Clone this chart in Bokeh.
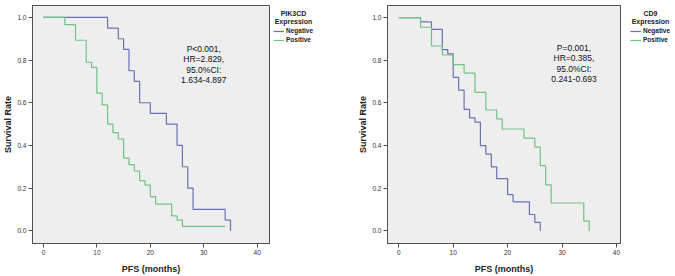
from bokeh.plotting import figure
from bokeh.models import Label, Legend, LegendItem, NumeralTickFormatter, FixedTicker, Range1d
from bokeh.layouts import row
from bokeh.embed import file_html
from bokeh.resources import INLINE

# ---- data ----
x_ticks = [0, 10, 20, 30, 40]
y_ticks = [0.0, 0.2, 0.4, 0.6, 0.8, 1.0]
group_labels = ["Negative", "Positive"]

# Left panel: PIK3CD expression
pik_neg_t = [0, 12, 14, 15, 16, 17, 18, 20, 23, 25, 26, 27, 28, 34, 35]
pik_neg_s = [1.0, 0.95, 0.90, 0.85, 0.75, 0.70, 0.60, 0.55, 0.50, 0.40, 0.30, 0.20, 0.10, 0.05, 0.0]
pik_pos_t = [0, 4, 6, 8, 9, 10, 11, 12, 13, 14, 15, 16, 17, 18, 19, 20, 21, 24, 25, 26, 34]
pik_pos_s = [1.0, 0.966, 0.893, 0.79, 0.766, 0.645, 0.59, 0.50, 0.46, 0.43, 0.34, 0.31, 0.28,
             0.235, 0.214, 0.16, 0.125, 0.07, 0.05, 0.02, 0.02]
pik_title = ["PIK3CD", "Expression"]
pik_stats = "P<0.001,\nHR=2.829,\n95.0%CI:\n1.634-4.897"

# Right panel: CD9 expression
cd9_neg_t = [0, 4, 6, 8, 9, 10, 11, 12, 13, 14, 15, 16, 17, 18, 20, 21, 24, 25, 26]
cd9_neg_s = [1.0, 0.98, 0.945, 0.85, 0.83, 0.72, 0.66, 0.57, 0.53, 0.51, 0.40, 0.36, 0.30,
             0.245, 0.17, 0.136, 0.077, 0.04, 0.0]
cd9_pos_t = [0, 4, 6, 8, 10, 12, 14, 16, 18, 19, 23, 25, 26, 27, 28, 34, 35]
cd9_pos_s = [1.0, 0.955, 0.867, 0.825, 0.78, 0.74, 0.65, 0.567, 0.525, 0.478, 0.435, 0.393,
             0.306, 0.216, 0.131, 0.046, 0.0]
cd9_title = ["CD9", "Expression"]
cd9_stats = "P=0.001,\nHR=0.385,\n95.0%CI:\n0.241-0.693"

NEG_COLOR = "#6b72b3"
POS_COLOR = "#72c285"
FONT = "Liberation Sans"
H = 276
TOP = 5
BOTTOM = 31
FRAME_H = H - TOP - BOTTOM


def km_panel(width, xr, yr, left, neg, pos, stats, stats_xy):
    p = figure(width=width, height=H, x_range=Range1d(*xr), y_range=Range1d(*yr),
               output_backend="svg", toolbar_location=None,
               min_border_left=left, min_border_right=1, min_border_top=TOP, min_border_bottom=BOTTOM)
    p.background_fill_color = "#eeeeee"
    p.border_fill_color = "white"
    p.outline_line_color = "#505050"
    p.outline_line_width = 1
    p.grid.visible = False

    p.xaxis.ticker = FixedTicker(ticks=x_ticks)
    p.yaxis.ticker = FixedTicker(ticks=y_ticks)
    p.yaxis.formatter = NumeralTickFormatter(format="0.0")
    for ax in (p.xaxis[0], p.yaxis[0]):
        ax.axis_line_color = "#505050"
        ax.major_tick_line_color = "#505050"
        ax.minor_tick_line_color = None
        ax.major_tick_out = 4
        ax.major_tick_in = 0
        ax.major_label_text_font = FONT
        ax.major_label_text_font_size = "6.5px"
        ax.major_label_text_color = "#333333"
        ax.major_label_standoff = 2
        ax.axis_label_text_font = FONT
        ax.axis_label_text_font_size = "9px"
        ax.axis_label_text_font_style = "bold"
        ax.axis_label_text_color = "#222222"
    p.xaxis.axis_label = "PFS (months)"
    p.yaxis.axis_label = "Survival Rate"
    p.xaxis.axis_label_standoff = 6
    p.yaxis.axis_label_standoff = 1

    p.step(neg[0], neg[1], mode="after", line_color=NEG_COLOR, line_width=1.2)
    p.step(pos[0], pos[1], mode="after", line_color=POS_COLOR, line_width=1.2)

    p.add_layout(Label(x=stats_xy[0], y=stats_xy[1], text=stats, text_align="center",
                       text_baseline="middle", text_font=FONT, text_font_size="8.5px",
                       text_line_height=1.05, text_color="#111111"))
    return p


def legend_panel(width, title, title_x, legend_x):
    # a plain drawing surface whose frame lines up with the chart frames; 1 unit = 1 pixel
    q = figure(width=width, height=H, x_range=Range1d(0, width), y_range=Range1d(0, FRAME_H),
               output_backend="svg", toolbar_location=None,
               min_border_left=0, min_border_right=0, min_border_top=TOP, min_border_bottom=BOTTOM)
    q.axis.visible = False
    q.grid.visible = False
    q.outline_line_color = None
    q.background_fill_color = "white"
    q.border_fill_color = "white"
    r_neg = q.line([-10, -5], [-10, -10], line_color=NEG_COLOR, line_width=1.2)
    r_pos = q.line([-10, -5], [-10, -10], line_color=POS_COLOR, line_width=1.2)
    legend = Legend(items=[LegendItem(label=group_labels[0], renderers=[r_neg]),
                           LegendItem(label=group_labels[1], renderers=[r_pos])],
                    location=(legend_x, FRAME_H - 23.5 - 17), orientation="vertical",
                    border_line_color=None, background_fill_alpha=0,
                    padding=0, margin=0, spacing=1,
                    glyph_width=11, glyph_height=8, label_height=8, label_standoff=2,
                    label_text_font=FONT, label_text_font_size="6.5px",
                    label_text_font_style="bold", label_text_color="#222222")
    q.add_layout(legend)
    for txt, page_y in zip(title, [13, 21.5]):
        q.add_layout(Label(x=title_x, y=FRAME_H - (page_y - TOP), text=txt, text_align="center",
                           text_baseline="middle", text_font=FONT, text_font_size="7px",
                           text_font_style="bold", text_color="#222222"))
    return q


p1 = km_panel(270, (-2.05, 42.3), (-0.06, 1.056), 31,
              (pik_neg_t, pik_neg_s), (pik_pos_t, pik_pos_s), pik_stats, (30.0, 0.78))
l1 = legend_panel(65, pik_title, 23, 3)
p2 = km_panel(286, (-2.08, 40.75), (-0.059, 1.057), 52,
              (cd9_neg_t, cd9_neg_s), (cd9_pos_t, cd9_pos_s), cd9_stats, (32.2, 0.784))
l2 = legend_panel(54, cd9_title, 29, 9)

layout = row(p1, l1, p2, l2)

html = file_html(layout, INLINE)
html = html.replace("<body>", '<body style="margin:0">', 1)
open("out.html", "w").write(html)
